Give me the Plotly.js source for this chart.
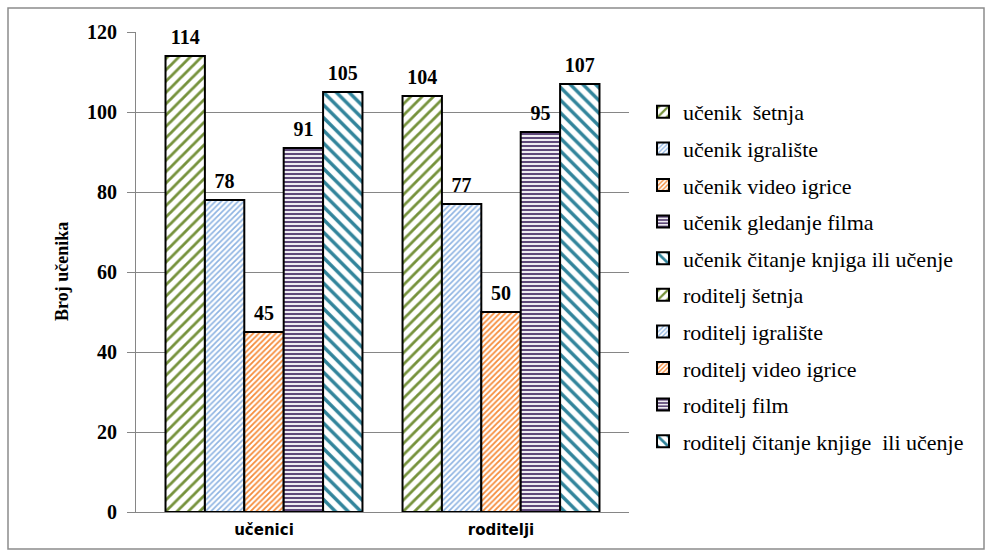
<!DOCTYPE html>
<html>
<head>
<meta charset="utf-8">
<script src="https://cdn.plot.ly/plotly-3.0.1.min.js"></script>
<style>
html,body{margin:0;padding:0;background:#fff;}
#chart{width:992px;height:557px;}
</style>
</head>
<body>
<div id="chart"></div>
<script>
// ---- data ----
const categories = ["učenici", "roditelji"];
const activities = ["šetnja", "igralište", "video igrice", "gledanje filma", "čitanje knjiga ili učenje"];
const ucenikNames = ["učenik  šetnja", "učenik igralište", "učenik video igrice", "učenik gledanje filma", "učenik čitanje knjiga ili učenje"];
const roditeljNames = ["roditelj šetnja", "roditelj igralište", "roditelj video igrice", "roditelj film", "roditelj čitanje knjige  ili učenje"];
const ucenikValues = [114, 78, 45, 91, 105];
const roditeljValues = [104, 77, 50, 95, 107];
const yTicks = [0, 20, 40, 60, 80, 100, 120];

// ---- styles ----
const colors = ["#76923C", "#8DB3E2", "#F58B3A", "#5F497A", "#31849B"];
const shapes = ["/", "/", "/", "-", "\\"];
const sizes = [8, 4, 4, 4, 9];
const solid = [0.35, 0.4, 0.45, 0.55, 0.38];

const serif = "Liberation Serif";
const traces = [];
function mk(name, vals, i, grp) {
  return {
    type: "bar",
    name: name,
    x: categories,
    y: vals,
    offsetgroup: String(i),
    legendgroup: grp + i,
    text: vals.map(v => v == null ? "" : "<span style='font-size:20px'><b>" + v + "</b></span><br> "),
    textposition: "outside",
    cliponaxis: false,
    constraintext: "none",
    textfont: {family: serif, size: 6, color: "#000"},
    marker: {
      color: "#ffffff",
      line: {color: "#000", width: 2},
      pattern: {shape: shapes[i], fgcolor: colors[i], bgcolor: "#ffffff", size: sizes[i], solidity: solid[i], fillmode: "replace"}
    },
    hoverinfo: "name+y"
  };
}
for (let i = 0; i < 5; i++) traces.push(mk(ucenikNames[i], [ucenikValues[i], null], i, "u"));
for (let i = 0; i < 5; i++) traces.push(mk(roditeljNames[i], [null, roditeljValues[i]], i, "r"));

const L = 136, R = 629, T = 32, B = 512, W = 992, H = 557;
const pw = R - L, ph = B - T;
const px = v => (v - L) / pw;
const py = v => (B - v) / ph;

const layout = {
  width: W, height: H,
  margin: {l: L, r: W - R, t: T, b: H - B, pad: 0},
  paper_bgcolor: "#fff", plot_bgcolor: "#fff",
  font: {family: serif},
  barmode: "group",
  bargap: 0.169,
  bargroupgap: 0,
  showlegend: true,
  legend: {
    x: px(643), y: py(91), xanchor: "left", yanchor: "top",
    traceorder: "grouped", tracegroupgap: 5,
    font: {family: serif, size: 22, color: "#000"},
    bgcolor: "rgba(0,0,0,0)"
  },
  xaxis: {
    type: "category",
    range: [-0.54, 1.54],
    showline: true, linecolor: "#868686", linewidth: 1,
    ticks: "", showgrid: false,
    ticklabelstandoff: 4,
    tickfont: {family: "DejaVu Sans", size: 15, color: "#000", weight: "bold"},
    fixedrange: true
  },
  yaxis: {
    range: [0, 120],
    tickvals: yTicks,
    ticktext: yTicks.map(String),
    showline: true, linecolor: "#868686", linewidth: 1,
    ticks: "outside", ticklen: 8, tickcolor: "#868686",
    ticklabelstandoff: 6,
    showgrid: true, gridcolor: "#868686", gridwidth: 1,
    zeroline: false,
    tickfont: {family: serif, size: 20, color: "#000", weight: "bold"},
    fixedrange: true
  },
  annotations: [{
    text: "<b>Broj učenika</b>", xref: "paper", yref: "paper",
    x: px(62), y: 0.5, xanchor: "center", yanchor: "middle", textangle: -90, showarrow: false,
    font: {family: serif, size: 18, color: "#000"}
  }],
  shapes: [{
    type: "rect", xref: "paper", yref: "paper",
    x0: px(8), x1: px(984), y0: py(549), y1: py(8),
    line: {color: "#8c8c8c", width: 1.5}, fillcolor: "rgba(0,0,0,0)", layer: "below"
  }]
};

Plotly.newPlot("chart", traces, layout, {displayModeBar: false, staticPlot: true});
</script>
</body>
</html>
